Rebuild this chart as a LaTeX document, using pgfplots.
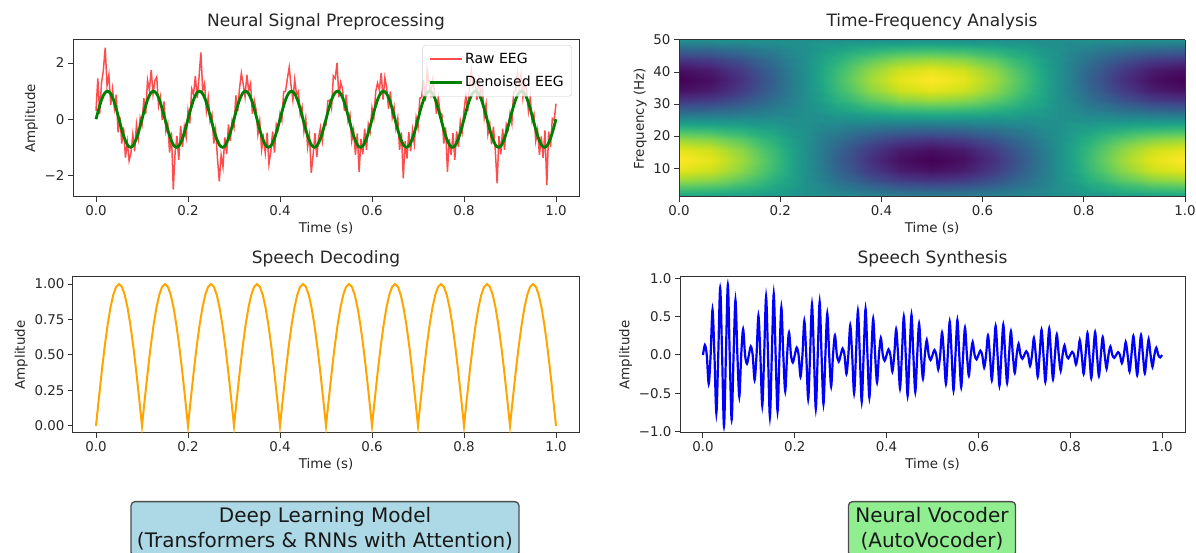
\documentclass[border=0pt]{standalone}
\usepackage{pgfplots}
\pgfplotsset{compat=1.18}
\usepackage{pgfplotstable}
\usepgfplotslibrary{colormaps}
\usepackage{fontspec}
\setmainfont{DejaVu Sans}
\definecolor{lblue}{HTML}{ADD8E6}
\definecolor{lgreen}{HTML}{90EE90}
\definecolor{mplorange}{HTML}{FFA500}
\definecolor{mplgreen}{HTML}{008000}

\pgfplotstableread{
t clean dec
0 0 0
0.00625 0.383 0.195
0.0125 0.707 0.383
0.01875 0.924 0.556
0.025 1 0.707
0.03125 0.924 0.831
0.0375 0.707 0.924
0.04375 0.383 0.981
0.05 0 1
0.05625 -0.383 0.981
0.0625 -0.707 0.924
0.06875 -0.924 0.831
0.075 -1 0.707
0.08125 -0.924 0.556
0.0875 -0.707 0.383
0.09375 -0.383 0.195
0.1 0 0
0.10625 0.383 0.195
0.1125 0.707 0.383
0.11875 0.924 0.556
0.125 1 0.707
0.13125 0.924 0.831
0.1375 0.707 0.924
0.14375 0.383 0.981
0.15 0 1
0.15625 -0.383 0.981
0.1625 -0.707 0.924
0.16875 -0.924 0.831
0.175 -1 0.707
0.18125 -0.924 0.556
0.1875 -0.707 0.383
0.19375 -0.383 0.195
0.2 0 0
0.20625 0.383 0.195
0.2125 0.707 0.383
0.21875 0.924 0.556
0.225 1 0.707
0.23125 0.924 0.831
0.2375 0.707 0.924
0.24375 0.383 0.981
0.25 0 1
0.25625 -0.383 0.981
0.2625 -0.707 0.924
0.26875 -0.924 0.831
0.275 -1 0.707
0.28125 -0.924 0.556
0.2875 -0.707 0.383
0.29375 -0.383 0.195
0.3 0 0
0.30625 0.383 0.195
0.3125 0.707 0.383
0.31875 0.924 0.556
0.325 1 0.707
0.33125 0.924 0.831
0.3375 0.707 0.924
0.34375 0.383 0.981
0.35 0 1
0.35625 -0.383 0.981
0.3625 -0.707 0.924
0.36875 -0.924 0.831
0.375 -1 0.707
0.38125 -0.924 0.556
0.3875 -0.707 0.383
0.39375 -0.383 0.195
0.4 0 0
0.40625 0.383 0.195
0.4125 0.707 0.383
0.41875 0.924 0.556
0.425 1 0.707
0.43125 0.924 0.831
0.4375 0.707 0.924
0.44375 0.383 0.981
0.45 0 1
0.45625 -0.383 0.981
0.4625 -0.707 0.924
0.46875 -0.924 0.831
0.475 -1 0.707
0.48125 -0.924 0.556
0.4875 -0.707 0.383
0.49375 -0.383 0.195
0.5 0 0
0.50625 0.383 0.195
0.5125 0.707 0.383
0.51875 0.924 0.556
0.525 1 0.707
0.53125 0.924 0.831
0.5375 0.707 0.924
0.54375 0.383 0.981
0.55 0 1
0.55625 -0.383 0.981
0.5625 -0.707 0.924
0.56875 -0.924 0.831
0.575 -1 0.707
0.58125 -0.924 0.556
0.5875 -0.707 0.383
0.59375 -0.383 0.195
0.6 0 0
0.60625 0.383 0.195
0.6125 0.707 0.383
0.61875 0.924 0.556
0.625 1 0.707
0.63125 0.924 0.831
0.6375 0.707 0.924
0.64375 0.383 0.981
0.65 0 1
0.65625 -0.383 0.981
0.6625 -0.707 0.924
0.66875 -0.924 0.831
0.675 -1 0.707
0.68125 -0.924 0.556
0.6875 -0.707 0.383
0.69375 -0.383 0.195
0.7 0 0
0.70625 0.383 0.195
0.7125 0.707 0.383
0.71875 0.924 0.556
0.725 1 0.707
0.73125 0.924 0.831
0.7375 0.707 0.924
0.74375 0.383 0.981
0.75 0 1
0.75625 -0.383 0.981
0.7625 -0.707 0.924
0.76875 -0.924 0.831
0.775 -1 0.707
0.78125 -0.924 0.556
0.7875 -0.707 0.383
0.79375 -0.383 0.195
0.8 0 0
0.80625 0.383 0.195
0.8125 0.707 0.383
0.81875 0.924 0.556
0.825 1 0.707
0.83125 0.924 0.831
0.8375 0.707 0.924
0.84375 0.383 0.981
0.85 0 1
0.85625 -0.383 0.981
0.8625 -0.707 0.924
0.86875 -0.924 0.831
0.875 -1 0.707
0.88125 -0.924 0.556
0.8875 -0.707 0.383
0.89375 -0.383 0.195
0.9 0 0
0.90625 0.383 0.195
0.9125 0.707 0.383
0.91875 0.924 0.556
0.925 1 0.707
0.93125 0.924 0.831
0.9375 0.707 0.924
0.94375 0.383 0.981
0.95 0 1
0.95625 -0.383 0.981
0.9625 -0.707 0.924
0.96875 -0.924 0.831
0.975 -1 0.707
0.98125 -0.924 0.556
0.9875 -0.707 0.383
0.99375 -0.383 0.195
1 0 0
}\cleantable

\pgfplotsset{
  myaxis/.style={
    scale only axis,
    anchor=south west,
    axis line style={black!80, line width=1pt},
    tick style={black!80, line width=1pt},
    tick align=outside,
    tick pos=left,
    major tick length=5pt,
    tick label style={font=\fontsize{13.4}{16}\selectfont, text=black!85},
    label style={font=\fontsize{13.4}{16}\selectfont, text=black!85},
    title style={font=\fontsize{17}{20}\selectfont, text=black!85},
    /pgf/number format/assume math mode=true,
    xtick={0,0.2,0.4,0.6,0.8,1},
    xticklabels={0.0,0.2,0.4,0.6,0.8,1.0},
    xlabel={Time (s)},
  }
}

\begin{document}
\begin{tikzpicture}
\path[use as bounding box] (0,0) rectangle (1196pt,553pt);

% ---------- Neural Signal Preprocessing
\begin{axis}[myaxis, at={(73pt,356pt)}, width=506pt, height=157pt,
  xmin=-0.05, xmax=1.05, ymin=-2.77, ymax=2.82,
  ytick={-2,0,2}, yticklabels={−2,0,2},
  ylabel={Amplitude}, title={Neural Signal Preprocessing},
  legend style={at={(0.986,0.968)}, anchor=north east, draw=black!20,
    rounded corners=3pt, fill=white, fill opacity=0.8, draw opacity=1,
    text opacity=1, font=\fontsize{14}{17}\selectfont, inner xsep=6pt, inner ysep=6pt,
    row sep=7pt},
  legend cell align=left,
  legend image code/.code={\draw[#1] (0pt,0pt) -- (32pt,0pt);}]
\addplot[red, opacity=0.7, line width=1.5pt] coordinates {
(0,0.3)(0.004,1.45)(0.008,0.18)(0.012,1.29)(0.016,1.74)(0.02,2.55)(0.024,1.2)(0.028,1.58)(0.032,0.51)(0.036,1.07)(0.04,0.39)(0.044,0.87)(0.048,-0.47)(0.052,0.07)(0.056,-0.87)(0.06,-0.29)(0.064,-1.37)(0.068,-0.81)(0.072,-1.48)(0.076,-1.2)(0.08,-0.55)(0.084,-1.14)(0.088,-0.19)(0.092,-0.68)(0.096,0.05)
(0.1,-0.2)(0.104,0.75)(0.108,0.18)(0.112,1.39)(0.116,1.04)(0.12,1.75)(0.124,0.9)(0.128,1.38)(0.132,1.51)(0.136,0.47)(0.14,0.79)(0.144,-0.03)(0.148,0.63)(0.152,-0.43)(0.156,-0.17)(0.16,-1.19)(0.164,-0.47)(0.168,-2.51)(0.172,-1.18)(0.176,-0.6)(0.18,-1.45)(0.184,-0.24)(0.188,-0.99)(0.192,-0.28)(0.196,-0.65)
(0.2,0.3)(0.204,-0.15)(0.208,1.08)(0.212,0.89)(0.216,1.54)(0.22,0.75)(0.224,1.5)(0.228,2.38)(0.232,1.01)(0.236,1.27)(0.24,0.29)(0.244,0.77)(0.248,-0.07)(0.252,0.17)(0.256,-0.87)(0.26,-0.39)(0.264,-1.37)(0.268,-2.21)(0.272,-1.28)(0.276,-1.7)(0.28,-0.65)(0.284,-1.24)(0.288,-0.19)(0.292,-0.78)(0.296,-0.05)
(0.3,-0.3)(0.304,0.85)(0.308,0.28)(0.312,1.09)(0.316,1.64)(0.32,1.25)(0.324,0.8)(0.328,1.58)(0.332,1.01)(0.336,1.27)(0.34,0.19)(0.344,0.67)(0.348,0.33)(0.352,-0.53)(0.356,-0.07)(0.36,-1.09)(0.364,-0.67)(0.368,-1.21)(0.372,-0.48)(0.376,-1.6)(0.38,-1.15)(0.384,-0.44)(0.388,-1.19)(0.392,-0.18)(0.396,-0.35)
(0.4,0.2)(0.404,-0.05)(0.408,0.98)(0.412,0.99)(0.416,1.44)(0.42,1.85)(0.424,1.2)(0.428,0.68)(0.432,1.41)(0.436,0.87)(0.44,0.99)(0.444,0.17)(0.448,0.43)(0.452,-0.43)(0.456,0.03)(0.46,-0.99)(0.464,-0.57)(0.468,-1.91)(0.472,-1.28)(0.476,-0.5)(0.48,-1.35)(0.484,-0.64)(0.488,-0.29)(0.492,-0.78)(0.496,-0.15)
(0.5,-0.2)(0.504,0.65)(0.508,0.68)(0.512,0.39)(0.516,1.54)(0.52,1.45)(0.524,2.0)(0.528,0.78)(0.532,1.31)(0.536,1.07)(0.54,0.29)(0.544,0.87)(0.548,-0.07)(0.552,0.17)(0.556,-0.77)(0.56,-0.39)(0.564,-1.27)(0.568,-0.51)(0.572,-1.88)(0.576,-0.7)(0.58,-1.25)(0.584,-0.34)(0.588,-1.09)(0.592,-0.18)(0.596,-0.45)
(0.6,0.4)(0.604,0.05)(0.608,0.98)(0.612,1.29)(0.616,1.04)(0.62,1.65)(0.624,0.7)(0.628,1.48)(0.632,1.11)(0.636,0.37)(0.64,0.99)(0.644,0.07)(0.648,0.43)(0.652,-0.33)(0.656,0.03)(0.66,-1.09)(0.664,-0.47)(0.668,-2.11)(0.672,-0.78)(0.676,-1.4)(0.68,-0.45)(0.684,-1.14)(0.688,-0.39)(0.692,-0.88)(0.696,0.05)
(0.7,-0.3)(0.704,0.75)(0.708,0.78)(0.712,1.39)(0.716,0.64)(0.72,1.75)(0.724,1.3)(0.728,0.88)(0.732,1.41)(0.736,0.97)(0.74,0.19)(0.744,0.77)(0.748,0.23)(0.752,0.17)(0.756,-0.87)(0.76,-0.29)(0.764,-1.87)(0.768,-0.71)(0.772,-1.28)(0.776,-0.5)(0.78,-1.45)(0.784,-0.44)(0.788,-0.99)(0.792,-0.08)(0.796,-0.45)
(0.8,0.3)(0.804,0.85)(0.808,0.28)(0.812,1.19)(0.816,1.74)(0.82,1.15)(0.824,1.4)(0.828,0.68)(0.832,1.51)(0.836,0.87)(0.84,1.09)(0.844,0.07)(0.848,0.53)(0.852,-0.53)(0.856,-0.17)(0.86,-0.89)(0.864,-0.27)(0.868,-1.11)(0.872,-2.28)(0.876,-0.6)(0.88,-1.25)(0.884,-0.34)(0.888,-1.09)(0.892,-0.18)(0.896,-0.35)
(0.9,0.2)(0.904,-0.15)(0.908,0.98)(0.912,0.99)(0.916,1.64)(0.92,1.15)(0.924,1.6)(0.928,0.78)(0.932,1.31)(0.936,1.07)(0.94,0.29)(0.944,0.77)(0.948,-0.07)(0.952,0.17)(0.956,-0.77)(0.96,-0.39)(0.964,-1.27)(0.968,-0.61)(0.972,-1.38)(0.976,-0.4)(0.98,-2.35)(0.984,-0.44)(0.988,-0.99)(0.992,0.02)(0.996,-0.05)(1.0,0.55)
};
\addlegendentry{Raw EEG}
\addplot[mplgreen, line width=2.8pt, smooth] table[x=t, y=clean] {\cleantable};
\addlegendentry{Denoised EEG}
\end{axis}

% ---------- Time-Frequency Analysis
\begin{axis}[myaxis, at={(679pt,356pt)}, width=506pt, height=157pt,
  view={0}{90}, xmin=0, xmax=1, ymin=1, ymax=50, ztick=\empty,
  ytick={10,20,30,40,50}, yticklabels={10,20,30,40,50},
  ylabel={Frequency (Hz)}, title={Time-Frequency Analysis},
  colormap/viridis, point meta min=-1, point meta max=1, axis on top]
\addplot3[surf, shader=interp, mesh/cols=17] table[row sep=\\] {
t f z\\
0 0 0\\ 0.0625 0 0\\ 0.125 0 0\\ 0.1875 0 0\\ 0.25 0 0\\ 0.3125 0 0\\ 0.375 0 0\\ 0.4375 0 0\\ 0.5 0 0\\ 0.5625 0 0\\ 0.625 0 0\\ 0.6875 0 0\\ 0.75 0 0\\ 0.8125 0 0\\ 0.875 0 0\\ 0.9375 0 0\\ 1 0 0\\
0 3.125 0.383\\ 0.0625 3.125 0.354\\ 0.125 3.125 0.271\\ 0.1875 3.125 0.146\\ 0.25 3.125 0\\ 0.3125 3.125 -0.146\\ 0.375 3.125 -0.271\\ 0.4375 3.125 -0.354\\ 0.5 3.125 -0.383\\ 0.5625 3.125 -0.354\\ 0.625 3.125 -0.271\\ 0.6875 3.125 -0.146\\ 0.75 3.125 0\\ 0.8125 3.125 0.146\\ 0.875 3.125 0.271\\ 0.9375 3.125 0.354\\ 1 3.125 0.383\\
0 6.25 0.707\\ 0.0625 6.25 0.653\\ 0.125 6.25 0.5\\ 0.1875 6.25 0.271\\ 0.25 6.25 0\\ 0.3125 6.25 -0.271\\ 0.375 6.25 -0.5\\ 0.4375 6.25 -0.653\\ 0.5 6.25 -0.707\\ 0.5625 6.25 -0.653\\ 0.625 6.25 -0.5\\ 0.6875 6.25 -0.271\\ 0.75 6.25 0\\ 0.8125 6.25 0.271\\ 0.875 6.25 0.5\\ 0.9375 6.25 0.653\\ 1 6.25 0.707\\
0 9.375 0.924\\ 0.0625 9.375 0.854\\ 0.125 9.375 0.653\\ 0.1875 9.375 0.354\\ 0.25 9.375 0\\ 0.3125 9.375 -0.354\\ 0.375 9.375 -0.653\\ 0.4375 9.375 -0.854\\ 0.5 9.375 -0.924\\ 0.5625 9.375 -0.854\\ 0.625 9.375 -0.653\\ 0.6875 9.375 -0.354\\ 0.75 9.375 0\\ 0.8125 9.375 0.354\\ 0.875 9.375 0.653\\ 0.9375 9.375 0.854\\ 1 9.375 0.924\\
0 12.5 1\\ 0.0625 12.5 0.924\\ 0.125 12.5 0.707\\ 0.1875 12.5 0.383\\ 0.25 12.5 0\\ 0.3125 12.5 -0.383\\ 0.375 12.5 -0.707\\ 0.4375 12.5 -0.924\\ 0.5 12.5 -1\\ 0.5625 12.5 -0.924\\ 0.625 12.5 -0.707\\ 0.6875 12.5 -0.383\\ 0.75 12.5 0\\ 0.8125 12.5 0.383\\ 0.875 12.5 0.707\\ 0.9375 12.5 0.924\\ 1 12.5 1\\
0 15.625 0.924\\ 0.0625 15.625 0.854\\ 0.125 15.625 0.653\\ 0.1875 15.625 0.354\\ 0.25 15.625 0\\ 0.3125 15.625 -0.354\\ 0.375 15.625 -0.653\\ 0.4375 15.625 -0.854\\ 0.5 15.625 -0.924\\ 0.5625 15.625 -0.854\\ 0.625 15.625 -0.653\\ 0.6875 15.625 -0.354\\ 0.75 15.625 0\\ 0.8125 15.625 0.354\\ 0.875 15.625 0.653\\ 0.9375 15.625 0.854\\ 1 15.625 0.924\\
0 18.75 0.707\\ 0.0625 18.75 0.653\\ 0.125 18.75 0.5\\ 0.1875 18.75 0.271\\ 0.25 18.75 0\\ 0.3125 18.75 -0.271\\ 0.375 18.75 -0.5\\ 0.4375 18.75 -0.653\\ 0.5 18.75 -0.707\\ 0.5625 18.75 -0.653\\ 0.625 18.75 -0.5\\ 0.6875 18.75 -0.271\\ 0.75 18.75 0\\ 0.8125 18.75 0.271\\ 0.875 18.75 0.5\\ 0.9375 18.75 0.653\\ 1 18.75 0.707\\
0 21.875 0.383\\ 0.0625 21.875 0.354\\ 0.125 21.875 0.271\\ 0.1875 21.875 0.146\\ 0.25 21.875 0\\ 0.3125 21.875 -0.146\\ 0.375 21.875 -0.271\\ 0.4375 21.875 -0.354\\ 0.5 21.875 -0.383\\ 0.5625 21.875 -0.354\\ 0.625 21.875 -0.271\\ 0.6875 21.875 -0.146\\ 0.75 21.875 0\\ 0.8125 21.875 0.146\\ 0.875 21.875 0.271\\ 0.9375 21.875 0.354\\ 1 21.875 0.383\\
0 25 0\\ 0.0625 25 0\\ 0.125 25 0\\ 0.1875 25 0\\ 0.25 25 0\\ 0.3125 25 0\\ 0.375 25 0\\ 0.4375 25 0\\ 0.5 25 0\\ 0.5625 25 0\\ 0.625 25 0\\ 0.6875 25 0\\ 0.75 25 0\\ 0.8125 25 0\\ 0.875 25 0\\ 0.9375 25 0\\ 1 25 0\\
0 28.125 -0.383\\ 0.0625 28.125 -0.354\\ 0.125 28.125 -0.271\\ 0.1875 28.125 -0.146\\ 0.25 28.125 0\\ 0.3125 28.125 0.146\\ 0.375 28.125 0.271\\ 0.4375 28.125 0.354\\ 0.5 28.125 0.383\\ 0.5625 28.125 0.354\\ 0.625 28.125 0.271\\ 0.6875 28.125 0.146\\ 0.75 28.125 0\\ 0.8125 28.125 -0.146\\ 0.875 28.125 -0.271\\ 0.9375 28.125 -0.354\\ 1 28.125 -0.383\\
0 31.25 -0.707\\ 0.0625 31.25 -0.653\\ 0.125 31.25 -0.5\\ 0.1875 31.25 -0.271\\ 0.25 31.25 0\\ 0.3125 31.25 0.271\\ 0.375 31.25 0.5\\ 0.4375 31.25 0.653\\ 0.5 31.25 0.707\\ 0.5625 31.25 0.653\\ 0.625 31.25 0.5\\ 0.6875 31.25 0.271\\ 0.75 31.25 0\\ 0.8125 31.25 -0.271\\ 0.875 31.25 -0.5\\ 0.9375 31.25 -0.653\\ 1 31.25 -0.707\\
0 34.375 -0.924\\ 0.0625 34.375 -0.854\\ 0.125 34.375 -0.653\\ 0.1875 34.375 -0.354\\ 0.25 34.375 0\\ 0.3125 34.375 0.354\\ 0.375 34.375 0.653\\ 0.4375 34.375 0.854\\ 0.5 34.375 0.924\\ 0.5625 34.375 0.854\\ 0.625 34.375 0.653\\ 0.6875 34.375 0.354\\ 0.75 34.375 0\\ 0.8125 34.375 -0.354\\ 0.875 34.375 -0.653\\ 0.9375 34.375 -0.854\\ 1 34.375 -0.924\\
0 37.5 -1\\ 0.0625 37.5 -0.924\\ 0.125 37.5 -0.707\\ 0.1875 37.5 -0.383\\ 0.25 37.5 0\\ 0.3125 37.5 0.383\\ 0.375 37.5 0.707\\ 0.4375 37.5 0.924\\ 0.5 37.5 1\\ 0.5625 37.5 0.924\\ 0.625 37.5 0.707\\ 0.6875 37.5 0.383\\ 0.75 37.5 0\\ 0.8125 37.5 -0.383\\ 0.875 37.5 -0.707\\ 0.9375 37.5 -0.924\\ 1 37.5 -1\\
0 40.625 -0.924\\ 0.0625 40.625 -0.854\\ 0.125 40.625 -0.653\\ 0.1875 40.625 -0.354\\ 0.25 40.625 0\\ 0.3125 40.625 0.354\\ 0.375 40.625 0.653\\ 0.4375 40.625 0.854\\ 0.5 40.625 0.924\\ 0.5625 40.625 0.854\\ 0.625 40.625 0.653\\ 0.6875 40.625 0.354\\ 0.75 40.625 0\\ 0.8125 40.625 -0.354\\ 0.875 40.625 -0.653\\ 0.9375 40.625 -0.854\\ 1 40.625 -0.924\\
0 43.75 -0.707\\ 0.0625 43.75 -0.653\\ 0.125 43.75 -0.5\\ 0.1875 43.75 -0.271\\ 0.25 43.75 0\\ 0.3125 43.75 0.271\\ 0.375 43.75 0.5\\ 0.4375 43.75 0.653\\ 0.5 43.75 0.707\\ 0.5625 43.75 0.653\\ 0.625 43.75 0.5\\ 0.6875 43.75 0.271\\ 0.75 43.75 0\\ 0.8125 43.75 -0.271\\ 0.875 43.75 -0.5\\ 0.9375 43.75 -0.653\\ 1 43.75 -0.707\\
0 46.875 -0.383\\ 0.0625 46.875 -0.354\\ 0.125 46.875 -0.271\\ 0.1875 46.875 -0.146\\ 0.25 46.875 0\\ 0.3125 46.875 0.146\\ 0.375 46.875 0.271\\ 0.4375 46.875 0.354\\ 0.5 46.875 0.383\\ 0.5625 46.875 0.354\\ 0.625 46.875 0.271\\ 0.6875 46.875 0.146\\ 0.75 46.875 0\\ 0.8125 46.875 -0.146\\ 0.875 46.875 -0.271\\ 0.9375 46.875 -0.354\\ 1 46.875 -0.383\\
0 50 0\\ 0.0625 50 0\\ 0.125 50 0\\ 0.1875 50 0\\ 0.25 50 0\\ 0.3125 50 0\\ 0.375 50 0\\ 0.4375 50 0\\ 0.5 50 0\\ 0.5625 50 0\\ 0.625 50 0\\ 0.6875 50 0\\ 0.75 50 0\\ 0.8125 50 0\\ 0.875 50 0\\ 0.9375 50 0\\ 1 50 0\\
};
\end{axis}

% ---------- Speech Decoding
\begin{axis}[myaxis, at={(73pt,120pt)}, width=506pt, height=156pt,
  xmin=-0.05, xmax=1.05, ymin=-0.05, ymax=1.05,
  ytick={0,0.25,0.5,0.75,1}, yticklabels={0.00,0.25,0.50,0.75,1.00},
  ylabel={Amplitude}, title={Speech Decoding}]
\addplot[mplorange, line width=2pt] table[x=t, y=dec] {\cleantable};
\end{axis}

% ---------- Speech Synthesis
\begin{axis}[myaxis, at={(680pt,120pt)}, width=505pt, height=156pt,
  xmin=-0.05, xmax=1.05, ymin=-1.02, ymax=1.02,
  ytick={-1,-0.5,0,0.5,1}, yticklabels={−1.0,−0.5,0.0,0.5,1.0},
  ylabel={Amplitude}, title={Speech Synthesis}]
\addplot[blue, line width=2.2pt, smooth] coordinates {
(0,0)(0.0042,0.130)(0.0083,0)(0.0125,-0.376)(0.0167,0)(0.0208,0.591)(0.025,0)(0.0292,-0.761)(0.0333,0)(0.0375,0.877)(0.0417,0)(0.0458,-0.930)(0.05,0)(0.0542,0.919)(0.0583,0)(0.0625,-0.846)(0.0667,0)(0.0708,0.718)(0.075,0)(0.0792,-0.545)(0.0833,0)(0.0875,0.339)(0.0917,0)(0.0958,-0.114)
(0.1,0)(0.1042,0.113)(0.1083,0)(0.1125,-0.327)(0.1167,0)(0.1208,0.514)(0.125,0)(0.1292,-0.661)(0.1333,0)(0.1375,0.762)(0.1417,0)(0.1458,-0.808)(0.15,0)(0.1542,0.799)(0.1583,0)(0.1625,-0.735)(0.1667,0)(0.1708,0.624)(0.175,0)(0.1792,-0.474)(0.1833,0)(0.1875,0.295)(0.1917,0)(0.1958,-0.099)
(0.2,0)(0.2042,0.098)(0.2083,0)(0.2125,-0.284)(0.2167,0)(0.2208,0.447)(0.225,0)(0.2292,-0.575)(0.2333,0)(0.2375,0.663)(0.2417,0)(0.2458,-0.703)(0.25,0)(0.2542,0.695)(0.2583,0)(0.2625,-0.640)(0.2667,0)(0.2708,0.543)(0.275,0)(0.2792,-0.412)(0.2833,0)(0.2875,0.256)(0.2917,0)(0.2958,-0.086)
(0.3,0)(0.3042,0.085)(0.3083,0)(0.3125,-0.247)(0.3167,0)(0.3208,0.388)(0.325,0)(0.3292,-0.500)(0.3333,0)(0.3375,0.576)(0.3417,0)(0.3458,-0.611)(0.35,0)(0.3542,0.604)(0.3583,0)(0.3625,-0.556)(0.3667,0)(0.3708,0.472)(0.375,0)(0.3792,-0.358)(0.3833,0)(0.3875,0.223)(0.3917,0)(0.3958,-0.075)
(0.4,0)(0.4042,0.074)(0.4083,0)(0.4125,-0.215)(0.4167,0)(0.4208,0.337)(0.425,0)(0.4292,-0.435)(0.4333,0)(0.4375,0.501)(0.4417,0)(0.4458,-0.531)(0.45,0)(0.4542,0.525)(0.4583,0)(0.4625,-0.483)(0.4667,0)(0.4708,0.410)(0.475,0)(0.4792,-0.311)(0.4833,0)(0.4875,0.194)(0.4917,0)(0.4958,-0.065)
(0.5,0)(0.5042,0.065)(0.5083,0)(0.5125,-0.187)(0.5167,0)(0.5208,0.294)(0.525,0)(0.5292,-0.378)(0.5333,0)(0.5375,0.436)(0.5417,0)(0.5458,-0.462)(0.55,0)(0.5542,0.457)(0.5583,0)(0.5625,-0.420)(0.5667,0)(0.5708,0.357)(0.575,0)(0.5792,-0.271)(0.5833,0)(0.5875,0.168)(0.5917,0)(0.5958,-0.057)
(0.6,0)(0.6042,0.056)(0.6083,0)(0.6125,-0.162)(0.6167,0)(0.6208,0.255)(0.625,0)(0.6292,-0.329)(0.6333,0)(0.6375,0.379)(0.6417,0)(0.6458,-0.402)(0.65,0)(0.6542,0.397)(0.6583,0)(0.6625,-0.365)(0.6667,0)(0.6708,0.310)(0.675,0)(0.6792,-0.235)(0.6833,0)(0.6875,0.146)(0.6917,0)(0.6958,-0.049)
(0.7,0)(0.7042,0.049)(0.7083,0)(0.7125,-0.141)(0.7167,0)(0.7208,0.222)(0.725,0)(0.7292,-0.285)(0.7333,0)(0.7375,0.329)(0.7417,0)(0.7458,-0.349)(0.75,0)(0.7542,0.345)(0.7583,0)(0.7625,-0.317)(0.7667,0)(0.7708,0.269)(0.775,0)(0.7792,-0.204)(0.7833,0)(0.7875,0.127)(0.7917,0)(0.7958,-0.043)
(0.8,0)(0.8042,0.042)(0.8083,0)(0.8125,-0.123)(0.8167,0)(0.8208,0.193)(0.825,0)(0.8292,-0.248)(0.8333,0)(0.8375,0.286)(0.8417,0)(0.8458,-0.303)(0.85,0)(0.8542,0.300)(0.8583,0)(0.8625,-0.276)(0.8667,0)(0.8708,0.234)(0.875,0)(0.8792,-0.178)(0.8833,0)(0.8875,0.111)(0.8917,0)(0.8958,-0.037)
(0.9,0)(0.9042,0.037)(0.9083,0)(0.9125,-0.107)(0.9167,0)(0.9208,0.168)(0.925,0)(0.9292,-0.216)(0.9333,0)(0.9375,0.249)(0.9417,0)(0.9458,-0.264)(0.95,0)(0.9542,0.261)(0.9583,0)(0.9625,-0.240)(0.9667,0)(0.9708,0.204)(0.975,0)(0.9792,-0.155)(0.9833,0)(0.9875,0.096)(0.9917,0)(0.9958,-0.032)(1,0)
};
\end{axis}

% ---------- text boxes
\node[draw=black!70, fill=lblue, rounded corners=4pt, line width=1.3pt,
  align=center, font=\fontsize{20}{24.5}\selectfont, text=black!90,
  inner xsep=6pt, inner ysep=6pt, anchor=north] at (325pt,52pt)
  {Deep Learning Model\\(Transformers \& RNNs with Attention)};
\node[draw=black!70, fill=lgreen, rounded corners=4pt, line width=1.3pt,
  align=center, font=\fontsize{20}{24.5}\selectfont, text=black!90,
  inner xsep=7pt, inner ysep=6pt, anchor=north] at (932pt,52pt)
  {Neural Vocoder\\(AutoVocoder)};
\end{tikzpicture}
\end{document}
